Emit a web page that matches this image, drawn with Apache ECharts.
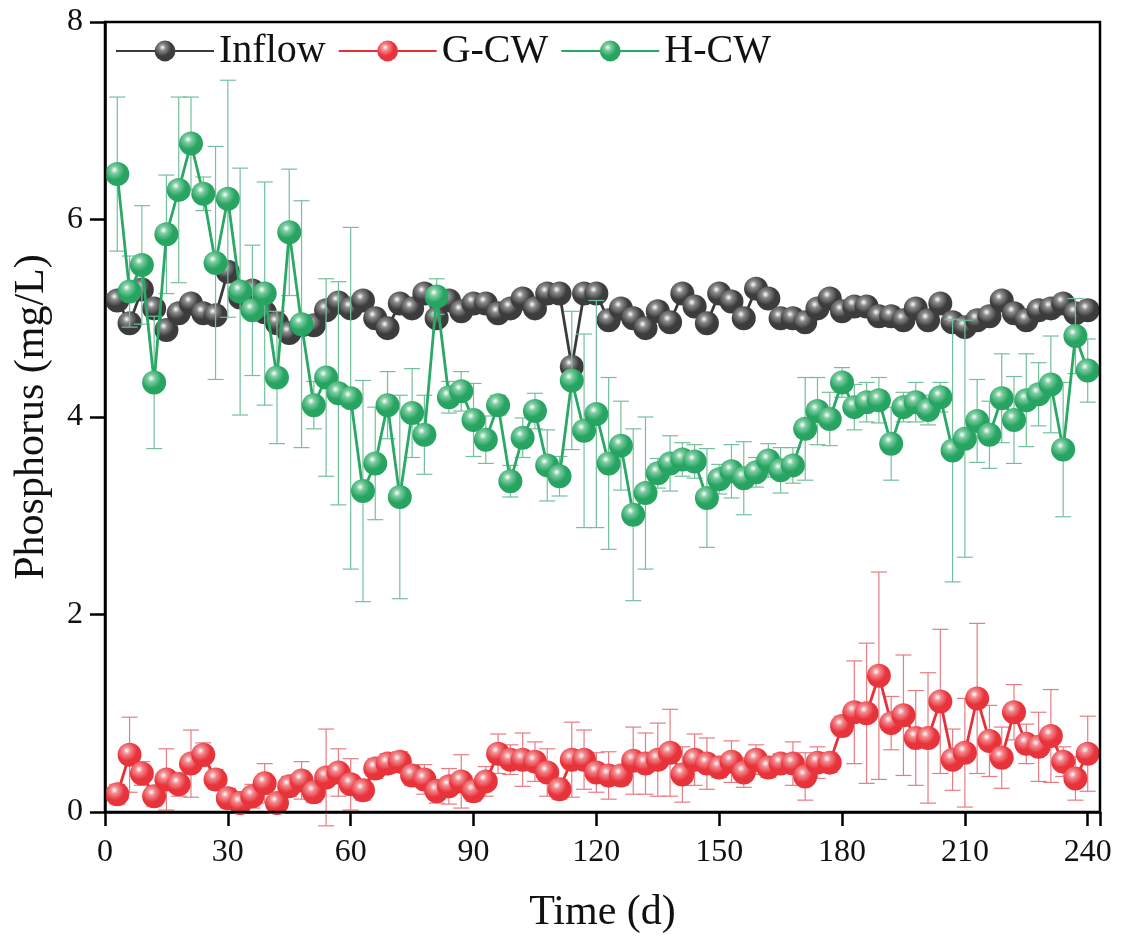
<!DOCTYPE html>
<html><head><meta charset="utf-8">
<script src="https://cdn.jsdelivr.net/npm/echarts@6/dist/echarts.min.js"></script>
<style>html,body{margin:0;padding:0;background:#fff}#c{width:1123px;height:945px}</style>
</head><body><div id="c"></div>
<script>
const days = [3,6,9,12,15,18,21,24,27,30,33,36,39,42,45,48,51,54,57,60,63,66,69,72,75,78,81,84,87,90,93,96,99,102,105,108,111,114,117,120,123,126,129,132,135,138,141,144,147,150,153,156,159,162,165,168,171,174,177,180,183,186,189,192,195,198,201,204,207,210,213,216,219,222,225,228,231,234,237,240];
const inflow = [5.18,4.95,5.29,5.10,4.88,5.05,5.15,5.05,5.03,5.47,5.21,5.28,5.06,4.95,4.85,4.93,4.93,5.08,5.16,5.10,5.18,5.00,4.90,5.15,5.10,5.25,5.00,5.18,5.07,5.15,5.15,5.05,5.10,5.20,5.10,5.25,5.25,4.51,5.25,5.25,4.98,5.10,5.00,4.90,5.07,4.96,5.25,5.12,4.95,5.25,5.17,5.00,5.30,5.20,5.00,5.00,4.96,5.10,5.20,5.07,5.12,5.12,5.02,5.02,4.98,5.10,4.98,5.15,4.96,4.91,4.98,5.02,5.18,5.05,4.98,5.08,5.10,5.15,5.05,5.08];
const gcw = [0.18,0.58,0.39,0.16,0.33,0.28,0.49,0.58,0.33,0.14,0.09,0.16,0.29,0.09,0.26,0.32,0.20,0.35,0.40,0.28,0.22,0.44,0.49,0.51,0.37,0.33,0.21,0.26,0.31,0.21,0.31,0.59,0.53,0.53,0.51,0.40,0.23,0.53,0.53,0.40,0.37,0.37,0.52,0.49,0.53,0.60,0.38,0.53,0.49,0.45,0.51,0.40,0.53,0.45,0.49,0.49,0.36,0.50,0.50,0.87,1.01,1.00,1.38,0.90,0.98,0.75,0.75,1.12,0.53,0.60,1.15,0.72,0.55,1.01,0.69,0.66,0.77,0.51,0.34,0.59];
const gcwErr = [0.10,0.38,0.12,0.10,0.31,0.12,0.34,0.12,0.10,0.10,0.08,0.12,0.20,0.10,0.10,0.19,0.10,0.49,0.24,0.26,0.10,0.10,0.10,0.10,0.10,0.15,0.12,0.18,0.27,0.10,0.15,0.20,0.15,0.27,0.20,0.24,0.10,0.38,0.30,0.20,0.24,0.10,0.34,0.31,0.37,0.44,0.28,0.26,0.26,0.10,0.21,0.15,0.15,0.10,0.10,0.22,0.24,0.16,0.10,0.10,0.52,0.71,1.05,0.27,0.61,0.48,0.66,0.73,0.31,0.55,0.76,0.36,0.31,0.28,0.20,0.35,0.47,0.15,0.22,0.38];
const hcw = [6.46,5.27,5.54,4.35,5.85,6.30,6.77,6.26,5.56,6.21,5.27,5.08,5.25,4.40,5.87,4.94,4.12,4.40,4.24,4.19,3.25,3.53,4.12,3.19,4.04,3.82,5.22,4.20,4.26,3.97,3.77,4.12,3.35,3.79,4.06,3.51,3.40,4.37,3.86,4.03,3.53,3.71,3.01,3.23,3.43,3.53,3.57,3.55,3.18,3.37,3.45,3.38,3.44,3.56,3.46,3.51,3.88,4.06,3.98,4.35,4.10,4.15,4.17,3.73,4.10,4.15,4.07,4.20,3.66,3.78,3.96,3.82,4.19,3.97,4.17,4.23,4.33,3.67,4.82,4.47];
const hcwErr = [0.78,0.36,0.60,0.67,0.60,0.94,0.47,0.17,1.18,1.20,1.25,0.66,1.13,0.67,0.64,1.25,0.24,1.00,1.13,1.73,1.12,0.57,0.34,1.03,0.45,0.40,0.18,0.16,0.20,0.37,0.24,0.10,0.16,0.20,0.18,0.36,0.20,0.70,0.98,1.15,0.87,0.45,0.87,0.77,0.15,0.28,0.17,0.17,0.50,0.15,0.27,0.37,0.15,0.17,0.23,0.18,0.52,0.34,0.27,0.15,0.23,0.20,0.23,0.37,0.15,0.20,0.15,0.15,1.33,1.20,0.42,0.34,0.45,0.44,0.47,0.32,0.49,0.68,0.38,0.32];
const xTicks = [0,30,60,90,120,150,180,210,240];
const yTicks = [0,2,4,6,8];

const FONT = '"Liberation Serif","Times New Roman",serif';
function sphere(base, mid){
  return {type:'radial', x:0.38, y:0.33, r:0.7, colorStops:[
    {offset:0, color:'#ffffff'},{offset:0.22, color:mid},{offset:0.6, color:base},{offset:1, color:base}]};
}
const C = {
  inflow:{line:'#3a3a3a', base:'#3c3c3c', mid:'#8a8a8a', err:'#555555'},
  g:{line:'#e3323a', base:'#e8333b', mid:'#f28a8e', err:'#e77c82'},
  h:{line:'#2aa865', base:'#27a462', mid:'#7ccca0', err:'#74c09c'}
};
function errSeries(vals, errs, color, z){
  const data = days.map((d,i)=>[d, vals[i]-errs[i], vals[i]+errs[i]]);
  return {type:'custom', z:z, silent:true, data:data, encode:{x:0,y:[1,2]},
    renderItem:function(params, api){
      const lo = api.coord([api.value(0), api.value(1)]);
      const hi = api.coord([api.value(0), api.value(2)]);
      const w = 8;
      const st = {stroke:color, lineWidth:1.2};
      return {type:'group', children:[
        {type:'line', shape:{x1:lo[0],y1:lo[1],x2:hi[0],y2:hi[1]}, style:st},
        {type:'line', shape:{x1:lo[0]-w,y1:lo[1],x2:lo[0]+w,y2:lo[1]}, style:st},
        {type:'line', shape:{x1:hi[0]-w,y1:hi[1],x2:hi[0]+w,y2:hi[1]}, style:st}
      ]};
    }};
}
function lineSeries(name, vals, c, z){
  return {name:name, type:'line', z:z, data:days.map((d,i)=>[d, vals[i]]),
    symbol:'circle', symbolSize:24, showSymbol:true,
    lineStyle:{color:c.line, width:2.8},
    itemStyle:{color:sphere(c.base, c.mid), borderWidth:0},
    emphasis:{disabled:true}};
}
const chart = echarts.init(document.getElementById('c'));
chart.setOption({
  animation:false,
  backgroundColor:'#fff',
  grid:{left:105, right:23, top:22, bottom:133},
  legend:{left:110, top:26, itemWidth:98, itemHeight:26, itemGap:12,
    textStyle:{fontFamily:FONT, fontSize:40, color:'#111'},
    data:['Inflow','G-CW','H-CW']},
  xAxis:{type:'value', min:0, max:243, interval:30,
    name:'Time (d)', nameLocation:'middle', nameGap:80,
    nameTextStyle:{fontFamily:FONT, fontSize:42, color:'#111'},
    axisLine:{show:true, onZero:false, lineStyle:{color:'#000', width:2.5}},
    axisTick:{show:true, inside:false, length:14, lineStyle:{color:'#000', width:2.5}},
    axisLabel:{fontFamily:FONT, fontSize:32, color:'#111', margin:25,
      customValues:xTicks, formatter:v=>String(v)},
    splitLine:{show:false}},
  yAxis:{type:'value', min:0, max:8, interval:2,
    name:'Phosphorus (mg/L)', nameLocation:'middle', nameGap:52,
    nameTextStyle:{fontFamily:FONT, fontSize:42, color:'#111'},
    axisLine:{show:true, lineStyle:{color:'#000', width:2.5}},
    axisTick:{show:true, inside:false, length:15, lineStyle:{color:'#000', width:2.5}},
    axisLabel:{fontFamily:FONT, fontSize:32, color:'#111', margin:22},
    splitLine:{show:false}},
  graphic:[{type:'rect', z:100, silent:true,
    shape:{x:105, y:22, width:1123-105-23, height:945-22-133},
    style:{fill:'none', stroke:'#000', lineWidth:2.5}}],
  series:[
    lineSeries('Inflow', inflow, C.inflow, 2),
    errSeries(gcw, gcwErr, C.g.err, 3),
    lineSeries('G-CW', gcw, C.g, 4),
    errSeries(hcw, hcwErr, C.h.err, 5),
    lineSeries('H-CW', hcw, C.h, 6)
  ]
});
</script></body></html>
